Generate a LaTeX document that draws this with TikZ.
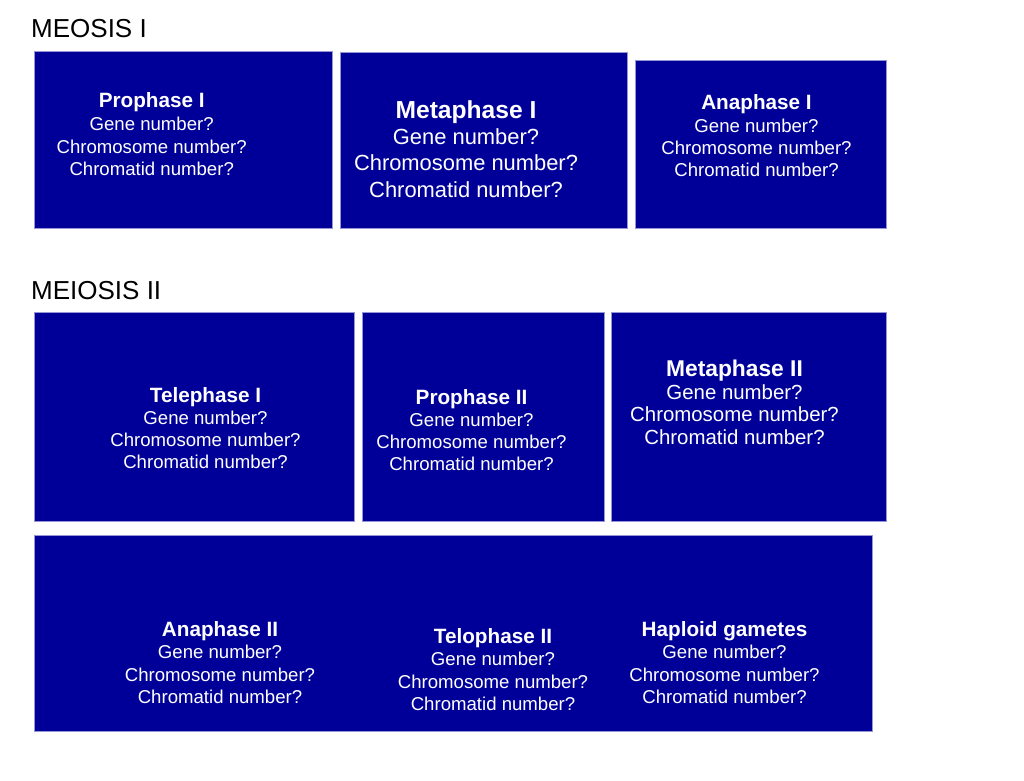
\documentclass[tikz,border=0pt]{standalone}
\usepackage{fontspec}
\setmainfont{Liberation Sans}
\definecolor{boxblue}{RGB}{0,0,153}
\definecolor{boxedge}{RGB}{150,150,215}
\newcommand\phasetext[9]{%
  \node[ttl, font=\bfseries\fontsize{#8}{#8}\selectfont] (#1t) at (#2,#3) {#7};
  \node[body, font=\fontsize{#9}{#9}\selectfont] (#1g) at (#2,#4) {Gene number?};
  \node[body, font=\fontsize{#9}{#9}\selectfont] (#1c) at (#2,#5) {Chromosome number?};
  \node[body, font=\fontsize{#9}{#9}\selectfont] (#1d) at (#2,#6) {Chromatid number?};
}
\begin{document}
\begin{tikzpicture}[x=1pt,y=-1pt,
  box/.style={fill=boxblue,draw=boxedge,line width=0.8pt},
  ttl/.style={text=white,inner sep=0pt,anchor=base},
  body/.style={text=white,inner sep=0pt,anchor=base},
  head/.style={text=black,inner sep=0pt,anchor=base west,font=\fontsize{26}{26}\selectfont}]
\useasboundingbox[fill=white] (0,0) rectangle (1024,780);
% headings
\node[head] (h1) at (31,37.3) {MEOSIS I};
\node[head] (h2) at (31,299.5) {MEIOSIS II};
% boxes
\path[box] (34,51) rectangle (332,228);
\path[box] (340,52.5) rectangle (627,228);
\path[box] (635,60) rectangle (886,228);
\path[box] (34,312) rectangle (354,521.5);
\path[box] (362,312) rectangle (604,521.5);
\path[box] (611,312) rectangle (886,521.5);
\path[box] (34,535) rectangle (872,731);
% texts
\phasetext{pa}{151.7}{107.7}{130.7}{153.3}{175.5}{Prophase I}{20.7}{18.6}
\phasetext{ma}{466}{118.8}{144.8}{170.8}{197.8}{Metaphase I}{24.6}{21.9}
\phasetext{aa}{756.5}{109.4}{132.7}{154.7}{176.7}{Anaphase I}{20.7}{18.6}
\phasetext{ta}{205.5}{402.4}{424.7}{446.7}{468.7}{Telephase I}{20.7}{18.6}
\phasetext{pb}{471.5}{404.4}{426.7}{448.7}{470.7}{Prophase II}{20.7}{18.6}
\phasetext{mb}{734.5}{376.2}{399.3}{421.3}{444.3}{Metaphase II}{22.8}{20.4}
\phasetext{ab}{220}{636.4}{658.7}{681.7}{703.7}{Anaphase II}{20.7}{18.6}
\phasetext{tb}{493}{643.4}{665.7}{688.7}{710.7}{Telophase II}{20.7}{18.6}
\phasetext{hg}{724.5}{636.4}{658.7}{681.7}{703.7}{Haploid gametes}{20.7}{18.6}
\end{tikzpicture}
\end{document}
